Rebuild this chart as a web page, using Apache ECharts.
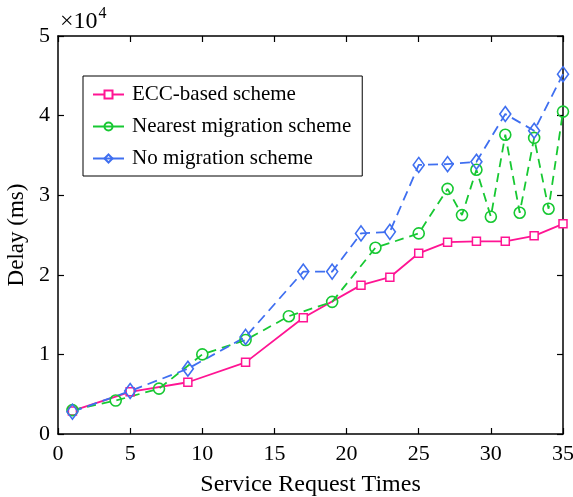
<!DOCTYPE html>
<html>
<head>
<meta charset="utf-8">
<script src="https://cdn.jsdelivr.net/npm/echarts@6/dist/echarts.min.js"></script>
<style>html,body{margin:0;padding:0;background:#fff}#c{width:573px;height:497px}</style>
</head>
<body>
<div id="c"></div>
<script>
const eccX = [1, 5, 9, 13, 17, 21, 23, 25, 27, 29, 31, 33, 35];
const eccY = [2900, 5300, 6500, 9000, 14600, 18700, 19700, 22700, 24100, 24200, 24200, 24900, 26400];
const nearX = [1, 4, 7, 10, 13, 16, 19, 22, 25, 27, 28, 29, 30, 31, 32, 33, 34, 35];
const nearY = [3000, 4200, 5700, 10000, 11800, 14800, 16600, 23400, 25200, 30800, 27500, 33200, 27300, 37600, 27800, 37200, 28300, 40500];
const noX = [1, 5, 9, 13, 17, 19, 21, 23, 25, 27, 29, 31, 33, 35];
const noY = [2800, 5400, 8200, 12200, 20400, 20400, 25200, 25400, 33800, 33900, 34200, 40200, 38100, 45200];
const xTicks = [0, 5, 10, 15, 20, 25, 30, 35];
const yTicks = [0, 1, 2, 3, 4, 5];
const names = ['ECC-based scheme', 'Nearest migration scheme', 'No migration scheme'];

const F = 'Liberation Serif';
const pair = (xs, ys) => xs.map((x, i) => [x, ys[i]]);
const axisBase = {
  type: 'value',
  axisLine: { show: true, onZero: false, lineStyle: { color: '#000', width: 1.5 } },
  axisTick: { show: true, inside: true, length: 6, lineStyle: { color: '#000', width: 1.2 } },
  splitLine: { show: false }
};
const chart = echarts.init(document.getElementById('c'));
chart.setOption({
  animation: false,
  grid: { left: 58, right: 10, top: 36, bottom: 63, outerBoundsMode: 'none', containLabel: false },
  xAxis: [
    Object.assign({}, axisBase, {
      min: 0, max: 35, interval: 5, position: 'bottom',
      name: 'Service Request Times', nameLocation: 'middle', nameGap: 39,
      nameTextStyle: { fontFamily: F, fontSize: 24, color: '#000' },
      axisLabel: { fontFamily: F, fontSize: 22, color: '#000', margin: 9,
        formatter: v => String(xTicks[Math.round(v / 5)]) }
    }),
    Object.assign({}, axisBase, {
      min: 0, max: 35, interval: 5, position: 'top', axisLabel: { show: false }
    })
  ],
  yAxis: [
    Object.assign({}, axisBase, {
      min: 0, max: 50000, interval: 10000, position: 'left',
      name: 'Delay (ms)', nameLocation: 'middle', nameGap: 26,
      nameTextStyle: { fontFamily: F, fontSize: 23, color: '#000' },
      axisLabel: { fontFamily: F, fontSize: 22, color: '#000', margin: 8,
        formatter: v => String(yTicks[Math.round(v / 10000)]) }
    }),
    Object.assign({}, axisBase, {
      min: 0, max: 50000, interval: 10000, position: 'right', axisLabel: { show: false }
    })
  ],
  legend: {
    orient: 'vertical', left: 83, top: 76,
    borderColor: '#000', borderWidth: 1, backgroundColor: '#fff',
    padding: [8, 11, 7, 9], itemGap: 11, itemWidth: 31, itemHeight: 10,
    lineStyle: { type: 'solid' },
    textStyle: { fontFamily: F, fontSize: 21, color: '#000', padding: [0, 0, 0, 3] },
    data: names
  },
  graphic: [{
    type: 'text', left: 60, top: 6,
    style: {
      text: '{a|×10}{b|4}', fill: '#000',
      rich: {
        a: { fontFamily: F, fontSize: 24, fill: '#000', verticalAlign: 'bottom' },
        b: { fontFamily: F, fontSize: 16, fill: '#000', verticalAlign: 'top', padding: [0, 0, 12, 1] }
      }
    }
  }],
  series: [
    {
      name: names[0], type: 'line', data: pair(eccX, eccY),
      symbol: 'rect', symbolSize: 8, showAllSymbol: true,
      itemStyle: { color: '#fff', borderColor: '#ff1493', borderWidth: 1.5 },
      lineStyle: { color: '#ff1493', width: 1.8, type: 'solid' },
      color: '#ff1493'
    },
    {
      name: names[1], type: 'line', data: pair(nearX, nearY),
      symbol: 'circle', symbolSize: 11, showAllSymbol: true,
      itemStyle: { color: 'rgba(255,255,255,0)', borderColor: '#17c832', borderWidth: 1.6 },
      lineStyle: { color: '#17c832', width: 1.8, type: [9, 6] },
      color: '#17c832'
    },
    {
      name: names[2], type: 'line', data: pair(noX, noY),
      symbol: 'diamond', symbolSize: [11, 15], showAllSymbol: true,
      itemStyle: { color: 'rgba(255,255,255,0)', borderColor: '#3f6ff0', borderWidth: 1.6 },
      lineStyle: { color: '#3f6ff0', width: 1.8, type: [10, 6] },
      color: '#3f6ff0'
    }
  ]
});
</script>
</body>
</html>
